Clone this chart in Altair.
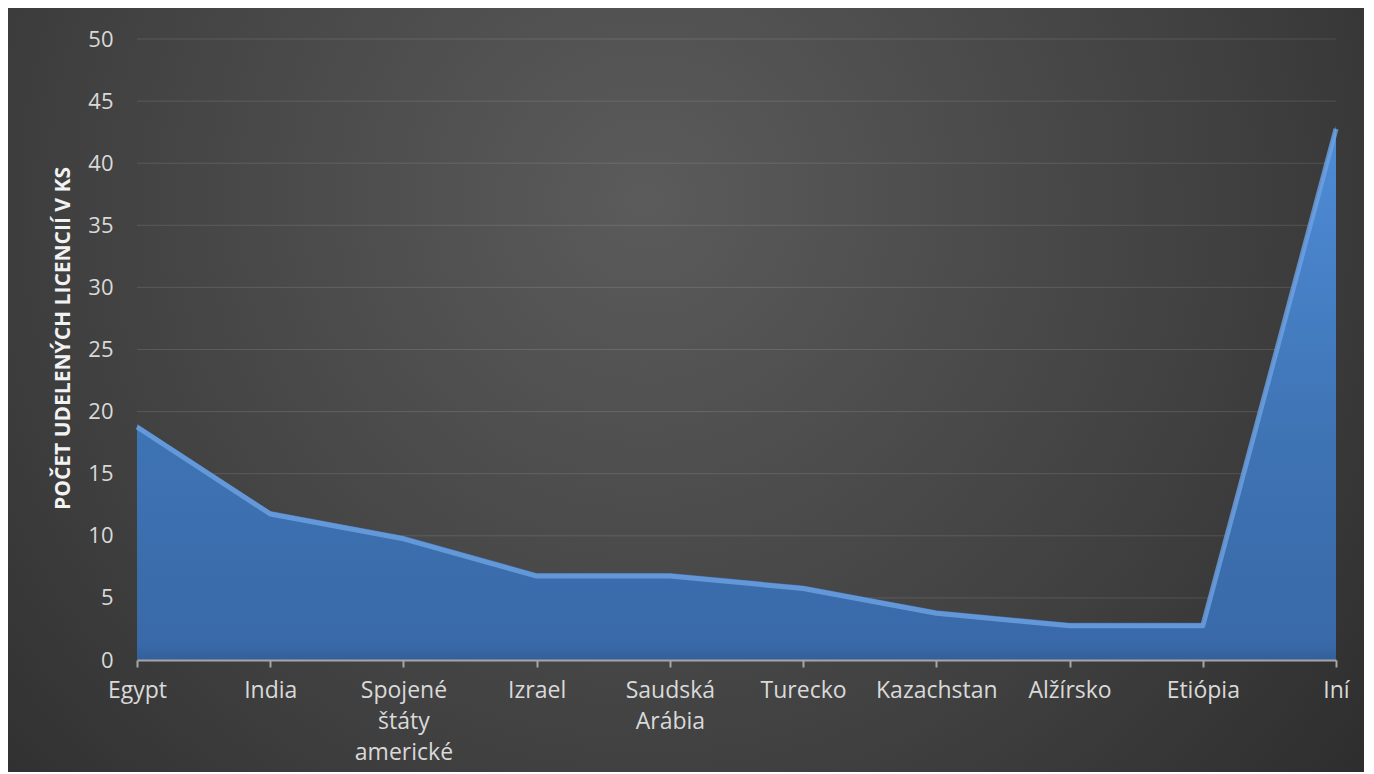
import altair as alt
import pandas as pd

categories = ["Egypt", "India", "Spojené štáty americké", "Izrael", "Saudská Arábia",
              "Turecko", "Kazachstan", "Alžírsko", "Etiópia", "Iní"]
values = [19, 12, 10, 7, 7, 6, 4, 3, 3, 43]
y_ticks = [0, 5, 10, 15, 20, 25, 30, 35, 40, 45, 50]
grid_values = [5, 10, 15, 20, 25, 30, 35, 40, 45, 50]
y_title = "POČET UDELENÝCH LICENCIÍ V KS"

W, H = 1199, 621
PAD = {"left": 129, "top": 31, "right": 28, "bottom": 112}
FONT = "Open Sans"

df = pd.DataFrame({"cat": categories, "val": values})
grid_df = pd.DataFrame({"val": grid_values})
bg_df = pd.DataFrame({"k": [0]})

x_enc = alt.X(
    "cat:N", sort=categories,
    scale=alt.Scale(type="point", padding=0),
    axis=alt.Axis(
        title=None, labelAngle=0, labelFont=FONT, labelFontSize=23, labelColor="#d9d9d9",
        labelExpr="split(datum.label, ' ')", labelLineHeight=31, labelPadding=12,
        labelOverlap=False, labelAlign="center",
        domainColor="#a6a6a6", domainWidth=2, tickColor="#a6a6a6", tickWidth=2, tickSize=7,
        grid=False, zindex=1,
    ),
)
y_enc = alt.Y(
    "val:Q",
    scale=alt.Scale(domain=[0, 50], nice=False, zero=True),
    axis=alt.Axis(
        title=y_title, values=y_ticks, labelFont=FONT, labelFontSize=22, labelColor="#d9d9d9",
        labelPadding=24, domain=False, ticks=False, grid=False, zindex=1,
        titleFont=FONT, titleFontSize=21, titleFontWeight="bold", titleColor="#f2f2f2",
        titlePadding=14, titleY=299,
    ),
)

radial = {
    "gradient": "radial",
    "x1": 0.47, "y1": 0.36, "r1": 0,
    "x2": 0.47, "y2": 0.36, "r2": 0.78,
    "stops": [
        {"offset": 0, "color": "#5b5b5b"},
        {"offset": 0.55, "color": "#404040"},
        {"offset": 1, "color": "#262626"},
    ],
}

bg = alt.Chart(bg_df).mark_rect(fill=radial, clip=False).encode(
    x=alt.value(-PAD["left"]), x2=alt.value(W + PAD["right"]),
    y=alt.value(-PAD["top"]), y2=alt.value(H + PAD["bottom"]),
)

grid = alt.Chart(grid_df).mark_rule(color="#ffffff", opacity=0.12, strokeWidth=1).encode(
    y=y_enc, x=alt.value(0), x2=alt.value(W),
)

area_grad = {
    "gradient": "linear", "x1": 0, "y1": 0, "x2": 0, "y2": 1,
    "stops": [
        {"offset": 0, "color": "#4f8cd8"},
        {"offset": 0.6, "color": "#3e73b3"},
        {"offset": 0.97, "color": "#3969a8"},
        {"offset": 1, "color": "#33609a"},
    ],
}

area = alt.Chart(df).mark_area(fill=area_grad, interpolate="linear").encode(x=x_enc, y=y_enc)

bevel = alt.Chart(df).mark_line(
    color="#6ea3e2", strokeWidth=5, opacity=0.8, yOffset=3, strokeJoin="round"
).encode(x=x_enc, y=y_enc)

chart = alt.layer(bg, grid, area, bevel).properties(
    width=W, height=H,
    autosize=alt.AutoSizeParams(type="none"),
    padding=PAD,
    background="#ffffff",
).configure_view(stroke=None)

chart.save("out.html", embed_options={"renderer": "svg", "actions": False})
